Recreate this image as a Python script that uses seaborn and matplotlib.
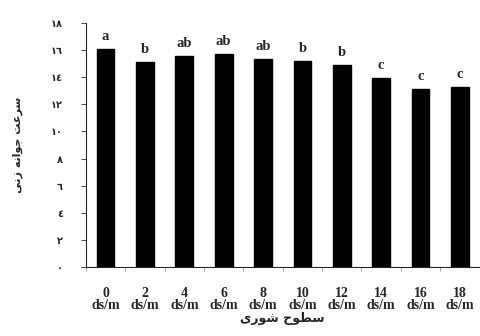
import numpy as np
import pandas as pd
import matplotlib
matplotlib.use("Agg")
import matplotlib.pyplot as plt
import seaborn as sns

# data
levels = ["0", "2", "4", "6", "8", "10", "12", "14", "16", "18"]
rate = [16.1, 15.08, 15.58, 15.73, 15.36, 15.19, 14.89, 13.9, 13.09, 13.3]
letters = ["a", "b", "ab", "ab", "ab", "b", "b", "c", "c", "c"]
ytick_vals = [0, 2, 4, 6, 8, 10, 12, 14, 16, 18]
ytick_labels = ["٠", "٢", "٤", "٦", "٨", "١٠", "١٢", "١٤", "١٦", "١٨"]

# Persian labels written in presentation forms, visual (left-to-right) order
ylabel_txt = "سرعت جوانه زنی"
xlabel_txt = "سطوح شوری"
ylabel_vis = "\uFEF0\uFEE7\uFEAF \uFEEA\uFEE7\uFE8D\uFEEE\uFE9F \uFE96\uFECB\uFEAE\uFEB3"
xlabel_vis = "\uFEEF\uFEAD\uFEEE\uFEB7 \uFEA1\uFEEE\uFEC4\uFEB3"

df = pd.DataFrame({"level": levels, "rate": rate})

sns.set_style("ticks")
fig = plt.figure(figsize=(4.8, 3.36), dpi=100)
ax = fig.add_axes([0.179, 0.205, 0.82, 0.727])

sns.barplot(data=df, x="level", y="rate", color="black", width=0.45,
            edgecolor="black", saturation=1, ax=ax)

for i, (v, t) in enumerate(zip(rate, letters)):
    ax.text(i, v + 0.45, t, ha="center", va="bottom", fontsize=10.5,
            fontweight="bold", family="Liberation Serif")

ax.set_ylim(0, 18)
ax.set_xlim(-0.5, len(levels) - 0.5)
ax.set_yticks(ytick_vals)
ax.set_yticklabels(ytick_labels, family="DejaVu Sans", fontweight="bold", fontsize=7)
ax.tick_params(axis="y", length=3.6, width=0.6, pad=13)

ax.set_xticks(np.arange(-0.5, len(levels), 1))
ax.set_xticklabels([])
ax.set_xticks(np.arange(len(levels)), minor=True)
ax.set_xticklabels([f"{l}\nds/m" for l in levels], minor=True,
                   family="Liberation Serif", fontweight="bold", fontsize=10,
                   linespacing=0.95)
ax.tick_params(axis="x", which="major", length=3, width=0.6, color="#999999")
ax.tick_params(axis="x", which="minor", length=0, pad=14)

ax.set_xlabel(xlabel_vis, family="DejaVu Sans", fontweight="bold", fontsize=9, labelpad=0)
ax.set_ylabel(ylabel_vis, family="DejaVu Sans", fontweight="bold", fontsize=8, labelpad=20)

sns.despine(ax=ax)
for s in ["left", "bottom"]:
    ax.spines[s].set_linewidth(0.8)

fig.savefig("out.png", dpi=100)
